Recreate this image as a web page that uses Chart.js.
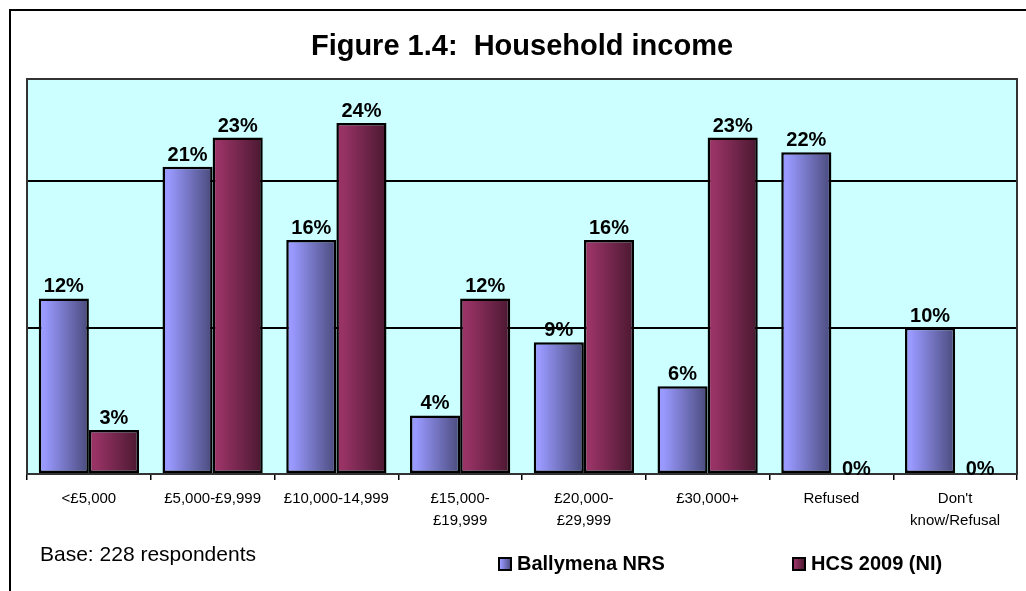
<!DOCTYPE html>
<html>
<head>
<meta charset="utf-8">
<script src="https://cdn.jsdelivr.net/npm/chart.js@4.4.1/dist/chart.umd.min.js"></script>
<style>
  body { margin: 0; background: #fff; }
  canvas { display: block; }
</style>
</head>
<body>
<canvas id="myChart" width="1026" height="591"></canvas>
<script>
// data
const categories = ["<£5,000", "£5,000-£9,999", "£10,000-14,999", ["£15,000-", "£19,999"], ["£20,000-", "£29,999"], "£30,000+", "Refused", ["Don't", "know/Refusal"]];
const ballymena = [12, 21, 16, 4, 9, 6, 22, 10];
const hcs = [3, 23, 24, 12, 16, 23, 0, 0];
const seriesNames = ["Ballymena NRS", "HCS 2009 (NI)"];
const gridValues = [10, 20];

const fontFamily = "Arial, 'Liberation Sans', sans-serif";
const groupWidth = 0.81;
const shades = [
  ["#9999ff", "#4a4a7c"],
  ["#993366", "#4a1830"]
];

function barGradient(ctx, left, right, di) {
  const g = ctx.createLinearGradient(left, 0, right, 0);
  g.addColorStop(0, shades[di][0]);
  g.addColorStop(0.12, shades[di][0]);
  g.addColorStop(1, shades[di][1]);
  return g;
}

// shaded fill per bar, worked out from the category scale
function barFill(c) {
  const chart = c.chart;
  const xs = chart.scales.x;
  if (!chart.chartArea || !xs || c.type !== "data") {
    return shades[c.datasetIndex][0];
  }
  const cat = xs.width / categories.length;
  const w = (cat * groupWidth) / 2;
  const left = xs.getPixelForValue(c.dataIndex) - w + c.datasetIndex * w;
  return barGradient(chart.ctx, left, left + w, c.datasetIndex);
}

// white page, outer frame and the cyan plot area
const backdrop = {
  id: "backdrop",
  beforeDraw(chart) {
    const { ctx, chartArea } = chart;
    ctx.save();
    ctx.fillStyle = "#fff";
    ctx.fillRect(0, 0, chart.width, chart.height);
    ctx.strokeStyle = "#000";
    ctx.lineWidth = 2;
    ctx.strokeRect(10, 10, 1030, 600);
    ctx.fillStyle = "#ccffff";
    ctx.fillRect(chartArea.left, chartArea.top, chartArea.right - chartArea.left, chartArea.bottom - chartArea.top);
    ctx.restore();
  },
  beforeDatasetsDraw(chart) {
    const { ctx, chartArea } = chart;
    ctx.save();
    ctx.strokeStyle = "#333";
    ctx.lineWidth = 2;
    ctx.strokeRect(chartArea.left, chartArea.top, chartArea.right - chartArea.left, chartArea.bottom - chartArea.top);
    ctx.restore();
  }
};

// percent labels above the bars
const valueLabels = {
  id: "valueLabels",
  afterDatasetsDraw(chart) {
    const { ctx } = chart;
    ctx.save();
    ctx.fillStyle = "#000";
    ctx.font = "bold 20px " + fontFamily;
    ctx.textAlign = "center";
    ctx.textBaseline = "alphabetic";
    chart.data.datasets.forEach((ds, di) => {
      chart.getDatasetMeta(di).data.forEach((bar, i) => {
        const v = ds.data[i];
        const off = v === 0 ? -1 : 6;
        ctx.fillText(v + "%", bar.x, bar.y - off);
      });
    });
    ctx.restore();
  }
};

// legend and base note at the bottom
const footer = {
  id: "footer",
  afterDraw(chart) {
    const { ctx } = chart;
    ctx.save();
    ctx.fillStyle = "#000";
    ctx.font = "21px " + fontFamily;
    ctx.textBaseline = "middle";
    ctx.fillText("Base: 228 respondents", 40, 555);

    const items = [
      { x: 499, label: seriesNames[0] },
      { x: 793, label: seriesNames[1] }
    ];
    ctx.font = "bold 20px " + fontFamily;
    items.forEach((it, di) => {
      ctx.fillStyle = barGradient(ctx, it.x, it.x + 12, di);
      ctx.fillRect(it.x, 558, 12, 12);
      ctx.strokeStyle = "#000";
      ctx.lineWidth = 2;
      ctx.strokeRect(it.x, 558, 12, 12);
      ctx.fillStyle = "#000";
      ctx.fillText(it.label, it.x + 18, 564);
    });
    ctx.restore();
  }
};

const data = {
  labels: categories,
  datasets: [
    {
      label: seriesNames[0],
      data: ballymena,
      backgroundColor: barFill,
      borderColor: "#000",
      borderWidth: 2.5,
      borderSkipped: false,
      categoryPercentage: groupWidth,
      barPercentage: 1
    },
    {
      label: seriesNames[1],
      data: hcs,
      backgroundColor: barFill,
      borderColor: "#000",
      borderWidth: 2.5,
      borderSkipped: false,
      categoryPercentage: groupWidth,
      barPercentage: 1
    }
  ]
};

const config = {
  type: "bar",
  data: data,
  plugins: [backdrop, valueLabels, footer],
  options: {
    responsive: false,
    animation: false,
    layout: { padding: { left: 0, right: 9, top: 0, bottom: 0 } },
    plugins: {
      legend: { display: false },
      tooltip: { enabled: false },
      title: {
        display: true,
        fullSize: false,
        text: "Figure 1.4:  Household income",
        color: "#000",
        font: { family: fontFamily, size: 29, weight: "bold", lineHeight: "32px" },
        padding: { top: 31, bottom: 16 }
      }
    },
    scales: {
      x: {
        grid: {
          offset: true,
          drawOnChartArea: false,
          drawTicks: true,
          tickLength: 6,
          color: "#000",
          lineWidth: 1.5
        },
        border: { display: true, color: "#000", width: 2 },
        ticks: {
          color: "#000",
          font: { family: fontFamily, size: 15, lineHeight: "22px" },
          padding: 8,
          maxRotation: 0,
          autoSkip: false
        },
        afterFit: (scale) => {
          scale.height = 117;
        }
      },
      y: {
        min: 0,
        max: 27,
        ticks: { display: false, stepSize: 10 },
        grid: {
          drawTicks: false,
          lineWidth: 2,
          color: (c) => (c.tick && gridValues.includes(c.tick.value) ? "#000" : "rgba(0,0,0,0)")
        },
        border: { display: false },
        afterFit: (scale) => {
          scale.width = 27;
        }
      }
    }
  }
};

const myChart = new Chart(document.getElementById("myChart"), config);
</script>
</body>
</html>
